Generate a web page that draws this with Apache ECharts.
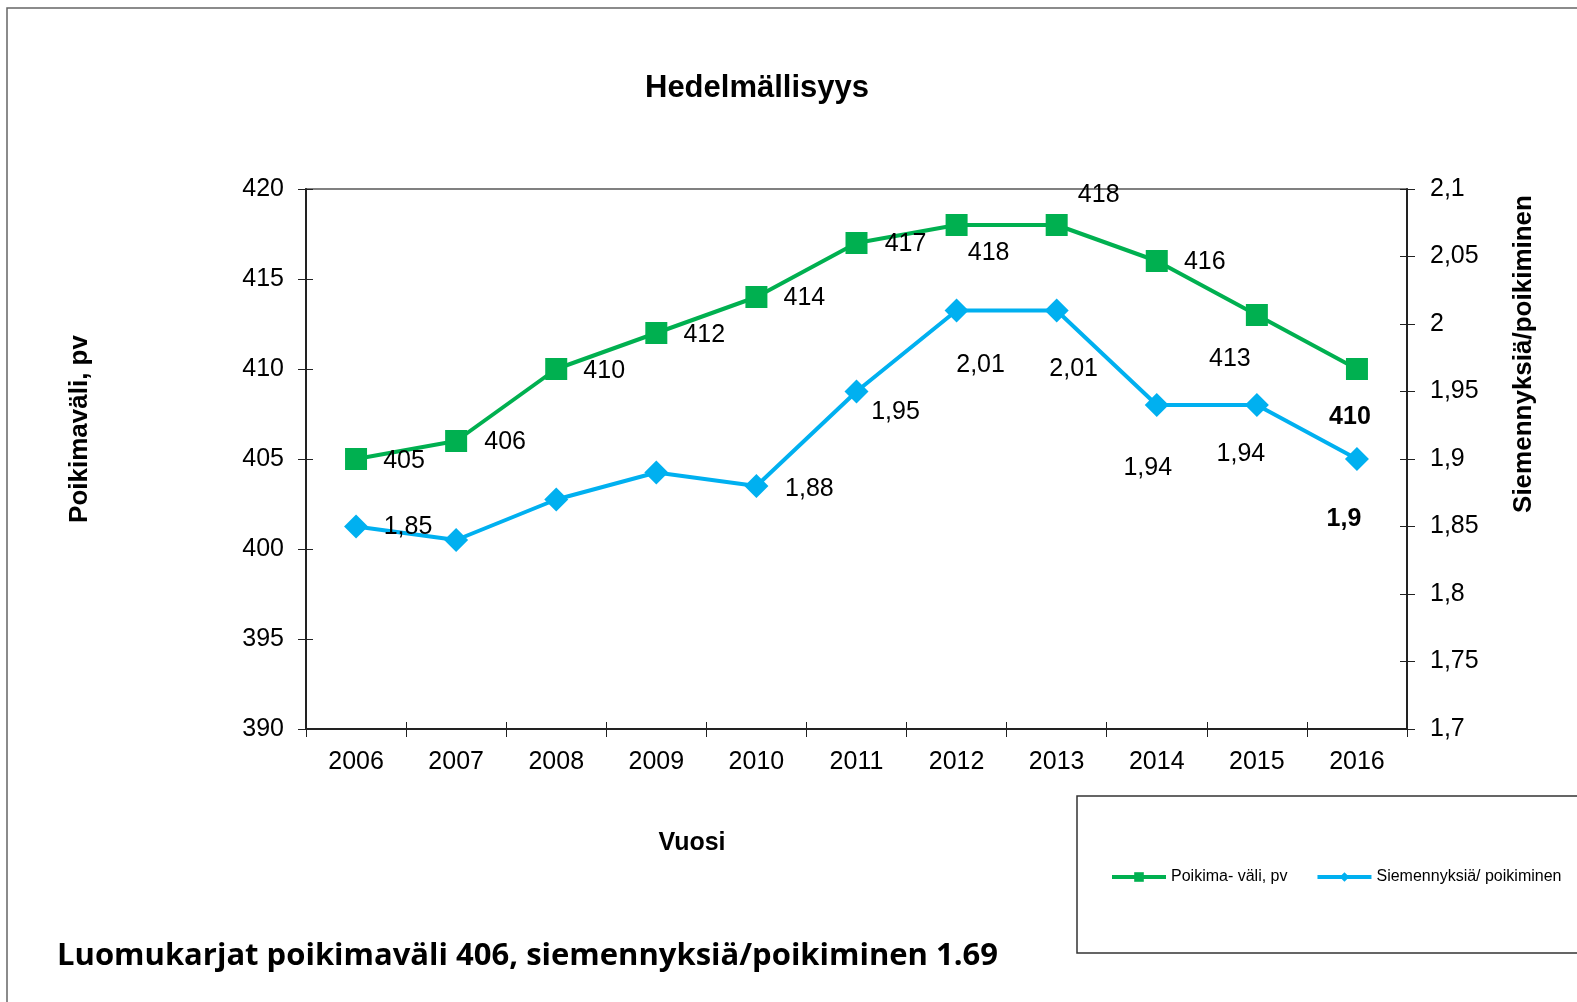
<!DOCTYPE html>
<html>
<head>
<meta charset="utf-8">
<title>Hedelmällisyys</title>
<script src="https://cdn.jsdelivr.net/npm/echarts@6/dist/echarts.min.js"></script>
<style>
  html, body { margin: 0; padding: 0; background: #fff; }
  #main { width: 1577px; height: 1002px; }
</style>
</head>
<body>
<div id="main"></div>
<script>
// vuodet (x-akseli)
const years = ['2006', '2007', '2008', '2009', '2010', '2011', '2012', '2013', '2014', '2015', '2016'];
// poikimaväli, pv (vasen akseli)
const poikimavali = [405, 406, 410, 412, 414, 417, 418, 418, 416, 413, 410];
// siemennyksiä / poikiminen (oikea akseli)
const siemennyksia = [1.85, 1.84, 1.87, 1.89, 1.88, 1.95, 2.01, 2.01, 1.94, 1.94, 1.9];

// arvotekstien sijainti pisteeseen nähden (null = ei tekstiä)
const greenLabelOffsets = [[48, 2], [49, 1], [48, 2], [48, 2], [48, 1], [49, 1], [32, 28], [42, -30], [48, 1], [-27, 44], [-7, 48]];
const blueLabelOffsets = [[52, 1], null, null, null, [53, 3], [39, 21], [24, 55], [17, 59], [-9, 63], [-16, 49], [-13, 60]];

const FONT = '"Liberation Sans", Arial, sans-serif';
const GREEN = '#00B050';
const BLUE = '#00B0F0';

function fi(v) {
  return String(+(+v).toFixed(2)).replace('.', ',');
}

// rakennetaan datapisteet + tekstit
function buildData(values, offsets) {
  return values.map((v, i) => {
    let off = offsets[i];
    let last = i === values.length - 1;
    return {
      value: v,
      label: {
        show: off != null,
        position: 'inside',
        offset: off || [0, 0],
        fontWeight: last ? 'bold' : 'normal'
      }
    };
  });
}

let chart = echarts.init(document.getElementById('main'));

let labelStyle = {
  fontFamily: FONT,
  fontSize: 25,
  color: '#000',
  formatter: p => fi(p.value)
};

let option = {
  backgroundColor: '#fff',
  animation: false,
  title: {
    text: 'Hedelmällisyys',
    left: 752,
    top: 68,
    textAlign: 'center',
    textStyle: { fontFamily: FONT, fontSize: 31, fontWeight: 'bold', color: '#000' }
  },
  grid: {
    left: 306,
    right: 170,
    top: 189,
    bottom: 273,
    show: true,
    borderColor: '#808080',
    borderWidth: 2
  },
  legend: {
    left: 1105,
    top: 864,
    itemWidth: 54,
    itemHeight: 12,
    itemGap: 28,
    lineStyle: { width: 4 },
    textStyle: { fontFamily: FONT, fontSize: 16, color: '#000' },
    data: ['Poikima- väli, pv', 'Siemennyksiä/ poikiminen']
  },
  xAxis: [{
    type: 'category',
    data: years,
    boundaryGap: true,
    axisLine: { lineStyle: { color: '#222', width: 2 } },
    axisTick: { show: true, length: 8, lineStyle: { color: '#222' } },
    axisLabel: { fontFamily: FONT, fontSize: 25, color: '#000', margin: 21 },
    splitLine: { show: false }
  }, {
    // sisäpuolen tikit (ristitikit)
    type: 'category',
    data: years,
    position: 'bottom',
    boundaryGap: true,
    axisLine: { show: false },
    axisTick: { show: true, inside: true, length: 7, lineStyle: { color: '#222' } },
    axisLabel: { show: false },
    splitLine: { show: false }
  }],
  yAxis: [{
    type: 'value',
    position: 'left',
    min: 390,
    max: 420,
    interval: 5,
    axisLine: { show: true, lineStyle: { color: '#222', width: 2 } },
    axisTick: { show: true, length: 8, lineStyle: { color: '#222' } },
    axisLabel: { fontFamily: FONT, fontSize: 25, color: '#000', margin: 22 },
    splitLine: { show: false }
  }, {
    type: 'value',
    position: 'right',
    min: 1.7,
    max: 2.1,
    interval: 0.05,
    axisLine: { show: true, lineStyle: { color: '#222', width: 2 } },
    axisTick: { show: true, length: 8, lineStyle: { color: '#222' } },
    axisLabel: { fontFamily: FONT, fontSize: 25, color: '#000', margin: 23, formatter: v => fi(v) },
    splitLine: { show: false }
  }, {
    type: 'value',
    position: 'left',
    min: 390,
    max: 420,
    interval: 5,
    axisLine: { show: false },
    axisTick: { show: true, inside: true, length: 7, lineStyle: { color: '#222' } },
    axisLabel: { show: false },
    splitLine: { show: false }
  }, {
    type: 'value',
    position: 'right',
    min: 1.7,
    max: 2.1,
    interval: 0.05,
    axisLine: { show: false },
    axisTick: { show: true, inside: true, length: 7, lineStyle: { color: '#222' } },
    axisLabel: { show: false },
    splitLine: { show: false }
  }],
  series: [{
    name: 'Poikima- väli, pv',
    type: 'line',
    yAxisIndex: 0,
    symbol: 'rect',
    symbolSize: 22,
    lineStyle: { color: GREEN, width: 4 },
    itemStyle: { color: GREEN },
    label: labelStyle,
    data: buildData(poikimavali, greenLabelOffsets),
    z: 3
  }, {
    name: 'Siemennyksiä/ poikiminen',
    type: 'line',
    yAxisIndex: 1,
    symbol: 'diamond',
    symbolSize: 24,
    lineStyle: { color: BLUE, width: 4 },
    itemStyle: { color: BLUE },
    label: labelStyle,
    data: buildData(siemennyksia, blueLabelOffsets),
    z: 3
  }],
  graphic: [
    // ulkokehys
    {
      type: 'rect',
      shape: { x: 7, y: 8, width: 1620, height: 1100 },
      style: { fill: 'none', stroke: '#666', lineWidth: 1.5 },
      silent: true
    },
    // selitteen laatikko
    {
      type: 'rect',
      shape: { x: 1077, y: 796, width: 560, height: 157 },
      style: { fill: 'none', stroke: '#333', lineWidth: 1.5 },
      silent: true
    },
    // akselien nimet
    {
      type: 'text',
      x: 80,
      y: 429,
      rotation: Math.PI / 2,
      style: {
        text: 'Poikimaväli, pv',
        font: 'bold 26px ' + FONT,
        fill: '#000',
        align: 'center',
        verticalAlign: 'middle'
      }
    },
    {
      type: 'text',
      x: 1524,
      y: 354,
      rotation: Math.PI / 2,
      style: {
        text: 'Siemennyksiä/poikiminen',
        font: 'bold 26px ' + FONT,
        fill: '#000',
        align: 'center',
        verticalAlign: 'middle'
      }
    },
    {
      type: 'text',
      x: 692,
      y: 843,
      style: {
        text: 'Vuosi',
        font: 'bold 25px ' + FONT,
        fill: '#000',
        align: 'center',
        verticalAlign: 'middle'
      }
    },
    // alateksti
    {
      type: 'text',
      x: 57,
      y: 956,
      style: {
        text: 'Luomukarjat poikimaväli 406, siemennyksiä/poikiminen 1.69',
        font: 'bold 31px "Open Sans", Lato, sans-serif',
        fill: '#000',
        align: 'left',
        verticalAlign: 'middle'
      }
    }
  ]
};

chart.setOption(option);
</script>
</body>
</html>
